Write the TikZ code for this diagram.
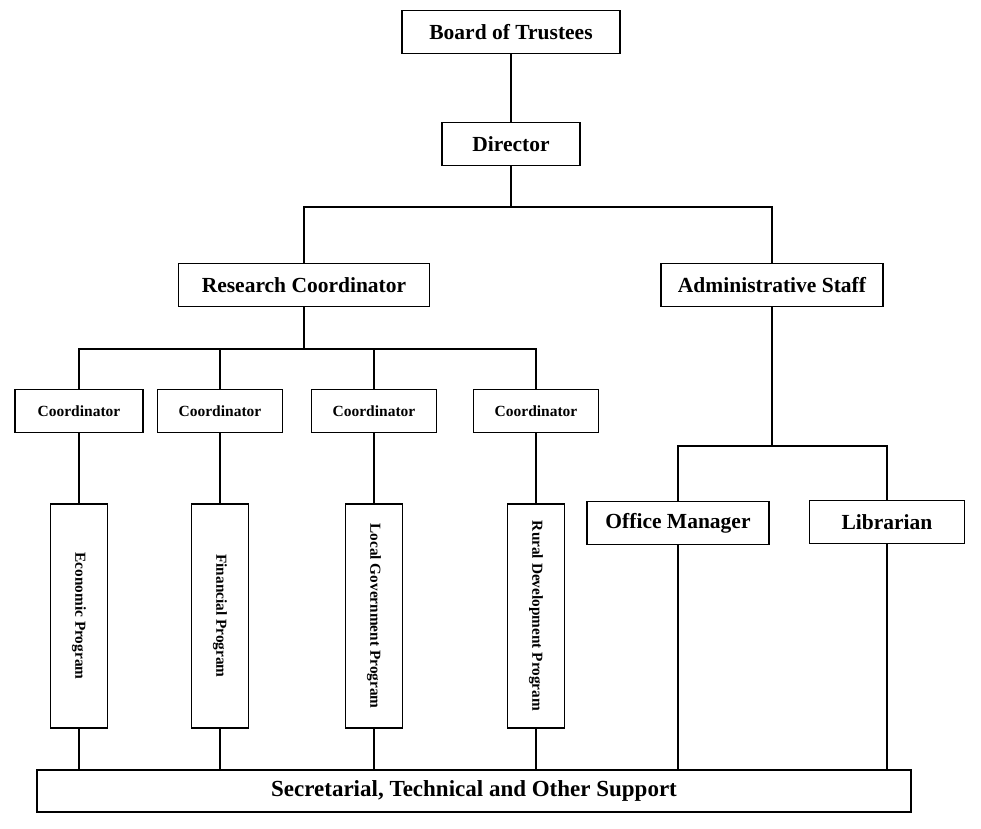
\documentclass[tikz,border=0pt]{standalone}
\usepackage{fontspec}
\usepackage{graphicx}
\setmainfont{Liberation Serif}
\begin{document}
\begin{tikzpicture}[x=1pt, y=-1pt,
  box/.style={draw, line width = 1.2pt, inner sep=0pt, minimum height=43pt,
    font=\bfseries\fontsize{21.5}{24}\selectfont},
  cbox/.style={box, minimum width=125pt, font=\bfseries\fontsize{15.5}{17}\selectfont},
  pbox/.style={box, minimum width=57pt, minimum height=224pt, font=\bfseries\fontsize{15.3}{17}\selectfont},
  link/.style={line width = 1.2pt}]
\useasboundingbox (0,0) rectangle (981,828);
\node[box, minimum width=218pt] (board) at (511,32) {Board of Trustees};
\node[box, minimum width=138pt] (dir) at (511,144) {Director};
\node[box, minimum width=251pt] (rc) at (304,285) {Research Coordinator};
\node[box, minimum width=222pt] (adm) at (772,285) {Administrative Staff};
\node[cbox, minimum width=128pt] (c1) at (79,411) {Coordinator};
\node[cbox] (c2) at (220,411) {Coordinator};
\node[cbox] (c3) at (374,411) {Coordinator};
\node[cbox] (c4) at (536,411) {Coordinator};
\node[pbox] (p1) at (79,616) {\rotatebox{-90}{Economic Program}};
\node[pbox] (p2) at (220,616) {\rotatebox{-90}{Financial Program}};
\node[pbox] (p3) at (374,616) {\rotatebox{-90}{Local Government Program}};
\node[pbox] (p4) at (536,616) {\rotatebox{-90}{Rural Development Program}};
\node[box, minimum width=182pt] (om) at (678,523) {Office Manager};
\node[box, minimum width=155pt] (lib) at (887,522) {Librarian};
\node[box, minimum width=874pt, minimum height=42pt, font=\bfseries\fontsize{23}{25}\selectfont] (sup) at (474,791) {Secretarial, Technical and Other Support};
% junctions of the bus lines
\coordinate (j1) at (511,207);
\coordinate (j2) at (304,349);
\coordinate (j3) at (772,446);
\draw [link] (board) -- (dir);
\draw [link] (dir) -- (j1);
\draw [link] (rc) |- (j1) -| (adm);
\draw [link] (rc) -- (j2);
\draw [link] (c1) |- (j2) -| (c4);
\draw [link] (c2) -- (c2 |- j2);
\draw [link] (c3) -- (c3 |- j2);
\draw [link] (adm) -- (j3);
\draw [link] (om) |- (j3) -| (lib);
\draw [link] (c1) -- (p1);
\draw [link] (c2) -- (p2);
\draw [link] (c3) -- (p3);
\draw [link] (c4) -- (p4);
\draw [link] (p1) -- (p1 |- sup.north);
\draw [link] (p2) -- (p2 |- sup.north);
\draw [link] (p3) -- (p3 |- sup.north);
\draw [link] (p4) -- (p4 |- sup.north);
\draw [link] (om) -- (om |- sup.north);
\draw [link] (lib) -- (lib |- sup.north);
\end{tikzpicture}
\end{document}
